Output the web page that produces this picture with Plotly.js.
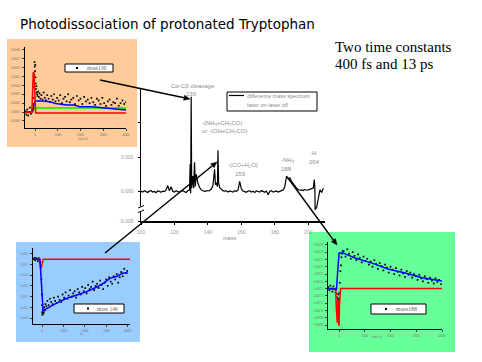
<!DOCTYPE html>
<html>
<head>
<meta charset="utf-8">
<script src="https://cdn.plot.ly/plotly-3.0.1.min.js"></script>
<style>
html,body{margin:0;padding:0;background:#fff;}
#chart{width:482px;height:362px;}
</style>
</head>
<body>
<div id="chart"></div>
<script>
// ---------- main difference mass spectrum ----------
const specMass = [100,101,102,103,104,105,106,107,108,109,110,111,112,113,114,115,116,117,118,119,120,121,122,123,124,125,126,127,128,
  129,129.4,129.7,130,130.3,131,131.5,132,132.5,133,134,135,136,137,138,139,140,141,142,143,144,144.5,145,145.7,146,146.4,147,148,149,
  150,151,152,153,154,155,156,157,158,159,160,161,162,163,164,165,166,167,168,169,170,171,172,173,174,175,176,177,178,179,
  180,181,182,183,184,185,186,187,188,189,190,191,192,193,194,195,196,197,198,199,200,201,202,203,203.6,203.9,204.1,205,205.6,206.3,207,208,209];
const specDiff = [0.00002,-0.00003,0.00005,0.0,-0.00005,0.00003,0.00006,-0.00002,0.00001,-0.00006,0.00004,0.00002,-0.00004,0.00003,0.0,0.0001,0.00035,0.00005,0.00028,0.00002,-0.00003,0.00005,0.00001,-0.00004,0.00003,0.00006,0.0,-0.00005,0.00005,
  0.0001,0.0016,-0.0001,0.0055,0.0002,0.0009,0.0002,0.0017,0.0003,0.001,0.0005,0.00025,0.0001,0.00005,0.00002,0.00004,0.00003,0.00006,0.00015,0.00035,0.0013,0.0004,0.0005,0.0003,0.0024,0.0005,0.00025,0.00012,0.00006,
  0.00003,0.00005,-0.00002,0.00004,0.00001,-0.00003,0.00005,0.00002,0.00008,0.0006,0.00015,0.00004,0.0,-0.00004,0.00003,0.00005,-0.00002,0.00002,-0.00005,0.00004,0.00001,-0.00003,0.00006,0.0,-0.00004,0.00003,-0.00018,0.00002,0.00005,-0.00003,
  0.00001,0.00004,-0.00002,0.00003,0.00006,0.0001,0.0003,0.0009,0.00075,0.0008,0.0006,0.00045,0.0003,0.0002,0.00012,0.00008,0.0001,0.00006,0.00012,0.00008,0.0001,0.00014,0.00015,0.0002,0.0007,0.0003,-0.00105,-0.0009,-0.0006,-0.0001,0.0001,-0.00005,0.0002];
const specXTicks = [100,120,140,160,180,200];
const specYTickVals = [-0.0017,0,0.002];
const specYTickText = ['-0.005','0.000','0.002'];

// ---------- inset: mass 130 (orange) ----------
const m130T = [-420,-380,-340,-300,-260,-220,-180,-140,-100,-70,-50,-40,-30,-20,-10,0,10,20,30,40,55,70,90,110,140,170,200,240,280,330,380,430,480,540,600,660,720,780,840,900,970,1040,1110,1180,1250,1320,1390,1460,1530,1600,1680,1760,1840,1920,2000,2080,2160,2240,2320,2400,2480,2560,2640,2720,2800,2880,2960,3040,3120,3200,3280,3360,3440,3520,3600,3680,3760,3840,3920,3990];
const m130Y = [1.1,0.7,1.3,0.6,1.0,1.5,0.8,1.2,1.4,1.9,2.6,3.8,5.2,6.6,6.1,5.6,6.3,4.9,4.2,3.6,3.9,3.2,3.0,2.8,3.3,2.7,3.1,2.5,2.9,2.4,3.2,2.6,2.3,2.9,2.5,2.1,2.8,2.4,3.0,2.2,2.6,2.3,2.9,2.0,2.5,2.7,2.2,3.0,2.1,2.4,2.6,1.9,2.8,2.3,2.5,1.9,2.7,2.2,2.4,2.0,2.6,2.1,1.8,2.5,2.3,1.9,2.6,2.0,1.7,2.2,2.4,1.8,2.1,2.0,2.5,1.7,2.0,2.3,1.9,2.1];
const m130RedT = [-440,-140,-110,-80,-45,-20,0,30,4000];
const m130RedY = [0.95,0.95,3.0,5.4,5.4,3.5,1.5,0.9,0.9];
const m130BlueT = [-440,-120,-80,-40,0,300,660,900,1400,1700,1980,2500,3160,3500,4000];
const m130BlueY = [1.0,1.0,1.4,1.9,2.25,2.25,2.15,1.95,1.8,1.8,1.6,1.6,1.43,1.35,1.24];
const m130GreenT = [-440,-100,-40,0,4000];
const m130GreenY = [1.0,1.0,1.3,1.46,1.46];
const m130YTickVals = [0,1,2,3,4,5,6,7,8];
const m130YTickText = ['0.0000','0.0001','0.0002','0.0003','0.0004','0.0005','0.0006','0.0007','0.0008'];

// ---------- inset: mass 146 (blue) ----------
const m146T = [-400,-360,-320,-280,-240,-200,-160,-120,-80,-50,-30,-10,0,10,20,30,45,60,80,100,130,160,200,
  250,310,370,430,490,550,610,680,750,820,890,960,1030,1100,1170,1240,1310,1380,1450,1520,1590,1660,1730,1800,1870,1940,2010,2080,2150,2220,2290,2360,2430,2500,2570,2640,2710,2780,2850,2920,2990,3060,3130,3200,3270,3340,3410,3480,3550,3620,3690,3760,3830,3900,3970];
const m146Y = [5.5,5.6,5.4,5.6,5.5,5.3,5.6,5.4,5.2,4.8,3.6,2.2,1.2,0.5,0.3,0.6,0.4,0.8,0.5,1.0,0.7,1.3,1.1,
  1.6,1.2,1.8,1.5,1.3,1.9,1.6,1.4,2.0,1.7,1.5,2.2,1.9,2.4,1.8,2.1,2.6,2.0,2.3,2.5,1.9,2.7,2.4,2.2,2.9,2.5,2.8,2.3,3.1,2.7,2.9,3.4,2.6,3.0,3.2,2.8,3.5,3.1,2.7,3.3,3.6,3.0,3.8,3.4,3.2,3.9,3.6,4.1,3.3,3.8,4.3,3.9,4.6,4.2,4.4];
const m146RedT = [-420,-120,-90,-60,-20,20,60,4100];
const m146RedY = [5.5,5.5,5.1,4.6,4.8,5.2,5.5,5.5];
const m146BlueT = [-420,-100,-50,0,50,100,300,510,800,1100,1630,2000,2560,2900,3160,3500,3770,4000];
const m146BlueY = [5.5,5.5,4.0,1.5,0.7,0.75,1.0,1.2,1.5,1.8,2.15,2.4,2.9,3.3,3.7,3.9,4.2,4.2];
const m146YTickVals = [0,1,2,3,4,5,6];
const m146YTickText = ['0.010','0.011','0.012','0.013','0.014','0.015','0.016'];

// ---------- inset: mass 188 (green) ----------
const m188T = [-420,-380,-340,-300,-260,-220,-180,-140,-100,-70,-50,-30,-10,10,30,50,70,90,110,140,
  180,250,320,390,460,530,600,670,740,810,880,950,1020,1090,1160,1230,1300,1370,1440,1510,1580,1650,1720,1790,1860,1930,2000,2070,2140,2210,2280,2350,2420,2490,2560,2630,2700,2770,2840,2910,2980,3050,3120,3190,3260,3330,3400,3470,3540,3610,3680,3750,3820,3890,3960];
const m188Y = [5.2,4.8,5.4,5.0,4.6,5.3,4.9,4.5,4.3,3.8,3.5,4.2,3.6,4.4,5.8,7.4,8.2,9.3,9.8,10.2,
  10.1,9.4,10.4,9.8,9.1,10.0,9.5,8.9,9.7,9.2,8.6,9.4,8.8,9.1,8.3,8.7,8.0,8.9,8.4,7.7,8.5,8.1,7.5,8.3,7.9,7.2,8.0,7.6,7.0,7.8,7.3,6.8,7.6,7.1,6.6,7.4,6.9,7.2,6.5,7.0,6.7,6.2,6.9,6.4,6.0,6.7,6.3,5.8,6.5,6.1,5.7,6.4,5.9,6.2,5.6];
const m188RedT = [-430,-130,-110,-85,-70,-50,-35,-15,0,20,40,60,4000];
const m188RedY = [5.0,5.0,2.5,0.3,0.3,3.4,3.4,0.0,0.0,3.0,5.0,5.0,5.0];
const m188BlueT = [-430,-160,-100,-60,-20,0,150,620,1280,1900,2570,3230,4000];
const m188BlueY = [5.0,5.0,4.9,7.0,9.2,9.9,9.9,9.2,8.5,7.7,7.15,6.5,6.05];
const m188YTickVals = [0,1,2,3,4,5,6,7,8,9,10,11];
const m188YTickText = ['0.0068','0.0069','0.0070','0.0071','0.0072','0.0073','0.0074','0.0075','0.0076','0.0077','0.0078','0.0079'];

const insetXTicks = [0,1000,2000,3000,4000];

// ---------- helpers for page placement (pixels -> paper) ----------
const W = 482, H = 362;
const px = v => v / W;
const py = v => 1 - v / H;

const RED = '#ff0000', BLUE = '#0000ff', GREEN = '#00ee00';

function pts(x, y, xa, ya) {
  return {x, y, xaxis: xa, yaxis: ya, type: 'scatter', mode: 'markers',
    marker: {symbol: 'square', size: 1.7, color: '#000', line: {width: 0}}, hoverinfo: 'skip'};
}
function ln(x, y, xa, ya, c) {
  return {x, y, xaxis: xa, yaxis: ya, type: 'scatter', mode: 'lines',
    line: {color: c, width: 1.5}, hoverinfo: 'skip'};
}

const traces = [
  {x: specMass, y: specDiff, xaxis: 'x', yaxis: 'y', type: 'scatter', mode: 'lines',
   line: {color: '#000', width: 1.2}, hoverinfo: 'skip'},
  pts(m130T, m130Y, 'x2', 'y2'),
  ln(m130GreenT, m130GreenY, 'x2', 'y2', GREEN),
  ln(m130BlueT, m130BlueY, 'x2', 'y2', BLUE),
  ln(m130RedT, m130RedY, 'x2', 'y2', RED),
  pts(m146T, m146Y, 'x3', 'y3'),
  ln(m146RedT, m146RedY, 'x3', 'y3', RED),
  ln(m146BlueT, m146BlueY, 'x3', 'y3', BLUE),
  pts(m188T, m188Y, 'x4', 'y4'),
  ln(m188RedT, m188RedY, 'x4', 'y4', RED),
  ln(m188BlueT, m188BlueY, 'x4', 'y4', BLUE)
];

const tinyFont = {family: 'Liberation Serif', size: 3.5, color: '#777'};
function insetX(dom, range, anchor) {
  return {domain: dom, range, anchor, showline: true, linecolor: '#000', linewidth: 1,
    ticks: 'outside', ticklen: 2, tickwidth: 0.7, tickcolor: '#000',
    tickvals: insetXTicks, tickfont: tinyFont, ticklabelstandoff: 1,
    showgrid: false, zeroline: false, fixedrange: true};
}
function insetY(dom, range, anchor, tv, tt) {
  return {domain: dom, range, anchor, showline: true, linecolor: '#000', linewidth: 1,
    ticks: 'outside', ticklen: 2, tickwidth: 0.7, tickcolor: '#000',
    tickvals: tv, ticktext: tt, tickfont: tinyFont, ticklabelstandoff: 1,
    showgrid: false, zeroline: false, fixedrange: true};
}

// connecting arrow: line + filled head (pixel positions on the slide)
function arrowShapes(hx, hy, tx, ty) {
  const dx = hx - tx, dy = hy - ty, len = Math.hypot(dx, dy);
  const ux = dx / len, uy = dy / len, L = 6, Wd = 2.6;
  const bx = hx - ux * L, by = hy - uy * L;
  const p1 = [bx - uy * Wd, by + ux * Wd], p2 = [bx + uy * Wd, by - ux * Wd];
  const P = (x, y) => px(x).toFixed(5) + ',' + py(y).toFixed(5);
  return [
    {type: 'line', xref: 'paper', yref: 'paper', x0: px(tx), y0: py(ty), x1: px(bx), y1: py(by),
     line: {color: '#000', width: 1.5}, layer: 'above'},
    {type: 'path', xref: 'paper', yref: 'paper',
     path: 'M' + P(hx, hy) + ' L' + P(p1[0], p1[1]) + ' L' + P(p2[0], p2[1]) + ' Z',
     fillcolor: '#000', line: {color: '#000', width: 0.5}, layer: 'above'}
  ];
}

const shapes = [
  // inset backgrounds
  {type: 'rect', xref: 'paper', yref: 'paper', x0: px(7), x1: px(137), y0: py(147), y1: py(39),
   fillcolor: '#ffcc99', line: {width: 0}, layer: 'below'},
  {type: 'rect', xref: 'paper', yref: 'paper', x0: px(16), x1: px(140), y0: py(342), y1: py(242),
   fillcolor: '#99ccff', line: {width: 0}, layer: 'below'},
  {type: 'rect', xref: 'paper', yref: 'paper', x0: px(309), x1: px(455), y0: py(352), y1: py(232),
   fillcolor: '#66ff99', line: {width: 0}, layer: 'below'},
  // main legend box
  {type: 'rect', xref: 'paper', yref: 'paper', x0: px(227), x1: px(317), y0: py(111), y1: py(92),
   fillcolor: '#fff', line: {color: '#000', width: 1}, layer: 'above'},
  {type: 'line', xref: 'paper', yref: 'paper', x0: px(229), x1: px(244), y0: py(95.5), y1: py(95.5),
   line: {color: '#000', width: 1.2}, layer: 'above'},
  // inset legend boxes
  {type: 'rect', xref: 'paper', yref: 'paper', x0: px(65), x1: px(113), y0: py(72), y1: py(64),
   fillcolor: '#fff', line: {color: '#000', width: 1}, layer: 'above'},
  {type: 'rect', xref: 'paper', yref: 'paper', x0: px(76), x1: px(78), y0: py(69), y1: py(67),
   fillcolor: '#000', line: {width: 0}, layer: 'above'},
  {type: 'rect', xref: 'paper', yref: 'paper', x0: px(74), x1: px(124), y0: py(313), y1: py(304),
   fillcolor: '#fff', line: {color: '#000', width: 1}, layer: 'above'},
  {type: 'rect', xref: 'paper', yref: 'paper', x0: px(87), x1: px(89), y0: py(309.5), y1: py(307.5),
   fillcolor: '#000', line: {width: 0}, layer: 'above'},
  {type: 'rect', xref: 'paper', yref: 'paper', x0: px(371), x1: px(426), y0: py(314), y1: py(304),
   fillcolor: '#fff', line: {color: '#000', width: 1}, layer: 'above'},
  {type: 'rect', xref: 'paper', yref: 'paper', x0: px(385), x1: px(387), y0: py(310), y1: py(308),
   fillcolor: '#000', line: {width: 0}, layer: 'above'},
  // axis break on the main y axis
  {type: 'rect', xref: 'paper', yref: 'paper', x0: px(138.5), x1: px(143.5), y0: py(212), y1: py(206.5),
   fillcolor: '#fff', line: {width: 0}, layer: 'above'},
  {type: 'line', xref: 'paper', yref: 'paper', x0: px(138), x1: px(144), y0: py(208), y1: py(205.5),
   line: {color: '#000', width: 1}, layer: 'above'},
  {type: 'line', xref: 'paper', yref: 'paper', x0: px(138), x1: px(144), y0: py(212.5), y1: py(210),
   line: {color: '#000', width: 1}, layer: 'above'},
  // connecting arrows
  ...arrowShapes(190, 99, 100, 80),
  ...arrowShapes(217, 162, 105, 253),
  ...arrowShapes(337, 245, 288, 178)
];

const gray = '#8c8c8c';
function txt(text, x, y, size, opts) {
  return Object.assign({text, x: px(x), y: py(y), xref: 'paper', yref: 'paper', showarrow: false,
    xanchor: 'center', yanchor: 'middle',
    font: {family: 'Liberation Sans', size, color: gray}}, opts || {});
}

const serif = (size, color) => ({family: 'Liberation Serif', size, color});

const annotations = [
  {text: 'Photodissociation of protonated Tryptophan', x: px(18), y: py(24), xref: 'paper', yref: 'paper',
   showarrow: false, xanchor: 'left', yanchor: 'middle', font: {family: 'DejaVu Sans', size: 13.5, color: '#000'}},
  {text: 'Two time constants', x: px(333), y: py(47), xref: 'paper', yref: 'paper', showarrow: false,
   xanchor: 'left', yanchor: 'middle', font: serif(15, '#000')},
  {text: '400 fs and 13 ps', x: px(333), y: py(64), xref: 'paper', yref: 'paper', showarrow: false,
   xanchor: 'left', yanchor: 'middle', font: serif(15, '#000')},
  // main chart labels
  txt('C\u03b1-C\u03b2 cleavage', 193, 86, 6),
  txt('130', 191, 94, 6),
  txt('-(NH<sub>3</sub>+CH<sub>2</sub>CO)', 200, 123, 6, {xanchor: 'left'}),
  txt('or -(OH+CH<sub>2</sub>CO)', 200, 132, 6, {xanchor: 'left'}),
  txt('-(CO+H<sub>2</sub>O)', 243, 165, 6),
  txt('159', 240, 173.5, 6),
  txt('-NH<sub>3</sub>', 288, 161, 6),
  txt('188', 286, 169.5, 6),
  txt('-H', 313, 153, 6),
  txt('204', 314, 162, 6),
  txt('difference mass spectrum', 245, 95.5, 5.5, {xanchor: 'left'}),
  txt('laser on-laser off', 245, 104.5, 5.5, {xanchor: 'left'}),
  txt('mass', 229, 238, 5.5),
  // inset labels
  {text: 'mass130', x: px(85), y: py(68), xref: 'paper', yref: 'paper', showarrow: false,
   xanchor: 'left', yanchor: 'middle', font: serif(5.5, '#666')},
  {text: 'mass 146', x: px(95), y: py(308.5), xref: 'paper', yref: 'paper', showarrow: false,
   xanchor: 'left', yanchor: 'middle', font: serif(5.5, '#666')},
  {text: 'mass188', x: px(394), y: py(309), xref: 'paper', yref: 'paper', showarrow: false,
   xanchor: 'left', yanchor: 'middle', font: serif(6, '#666')},
  {text: 'time/fs', x: px(76), y: py(139), xref: 'paper', yref: 'paper', showarrow: false,
   font: serif(3.5, '#777')},
  {text: 'fs', x: px(78), y: py(337.5), xref: 'paper', yref: 'paper', showarrow: false,
   font: serif(3.5, '#777')},
  {text: 'time fs', x: px(384), y: py(341), xref: 'paper', yref: 'paper', showarrow: false,
   font: serif(3.5, '#777')}
];

const layout = {
  width: W, height: H,
  margin: {l: 0, r: 0, t: 0, b: 0, pad: 0},
  paper_bgcolor: '#fff', plot_bgcolor: 'rgba(0,0,0,0)',
  showlegend: false,
  xaxis: {domain: [px(141), px(325)], range: [100, 210], anchor: 'y', showline: true,
    linecolor: '#000', linewidth: 1.5, ticks: 'outside', ticklen: 2, tickcolor: '#000',
    tickvals: specXTicks, tickfont: {family: 'Liberation Sans', size: 5, color: '#999'},
    ticklabelstandoff: 3, showgrid: false, zeroline: false, fixedrange: true},
  yaxis: {domain: [py(221), py(88)], range: [-0.0017, 0.006], anchor: 'x', showline: true,
    linecolor: '#000', linewidth: 1.5, ticks: 'outside', ticklen: 2, tickcolor: '#000',
    tickvals: specYTickVals, ticktext: specYTickText,
    minor: {tick0: 0, dtick: 0.002, ticks: 'outside', ticklen: 2, tickcolor: '#000'},
    tickfont: {family: 'Liberation Sans', size: 5, color: '#999'},
    ticklabelstandoff: 3, showgrid: false, zeroline: false, fixedrange: true},
  xaxis2: insetX([px(25), px(126)], [-440, 4000], 'y2'),
  yaxis2: insetY([py(128), py(47)], [-0.79, 8.3], 'x2', m130YTickVals, m130YTickText),
  xaxis3: insetX([px(33), px(130)], [-420, 4100], 'y3'),
  yaxis3: insetY([py(324), py(248)], [-0.56, 6.54], 'x3', m146YTickVals, m146YTickText),
  xaxis4: insetX([px(328), px(442)], [-430, 4000], 'y4'),
  yaxis4: insetY([py(329), py(242)], [-0.55, 11.4], 'x4', m188YTickVals, m188YTickText),
  shapes, annotations
};

Plotly.newPlot('chart', traces, layout, {staticPlot: true, displayModeBar: false});
</script>
</body>
</html>
